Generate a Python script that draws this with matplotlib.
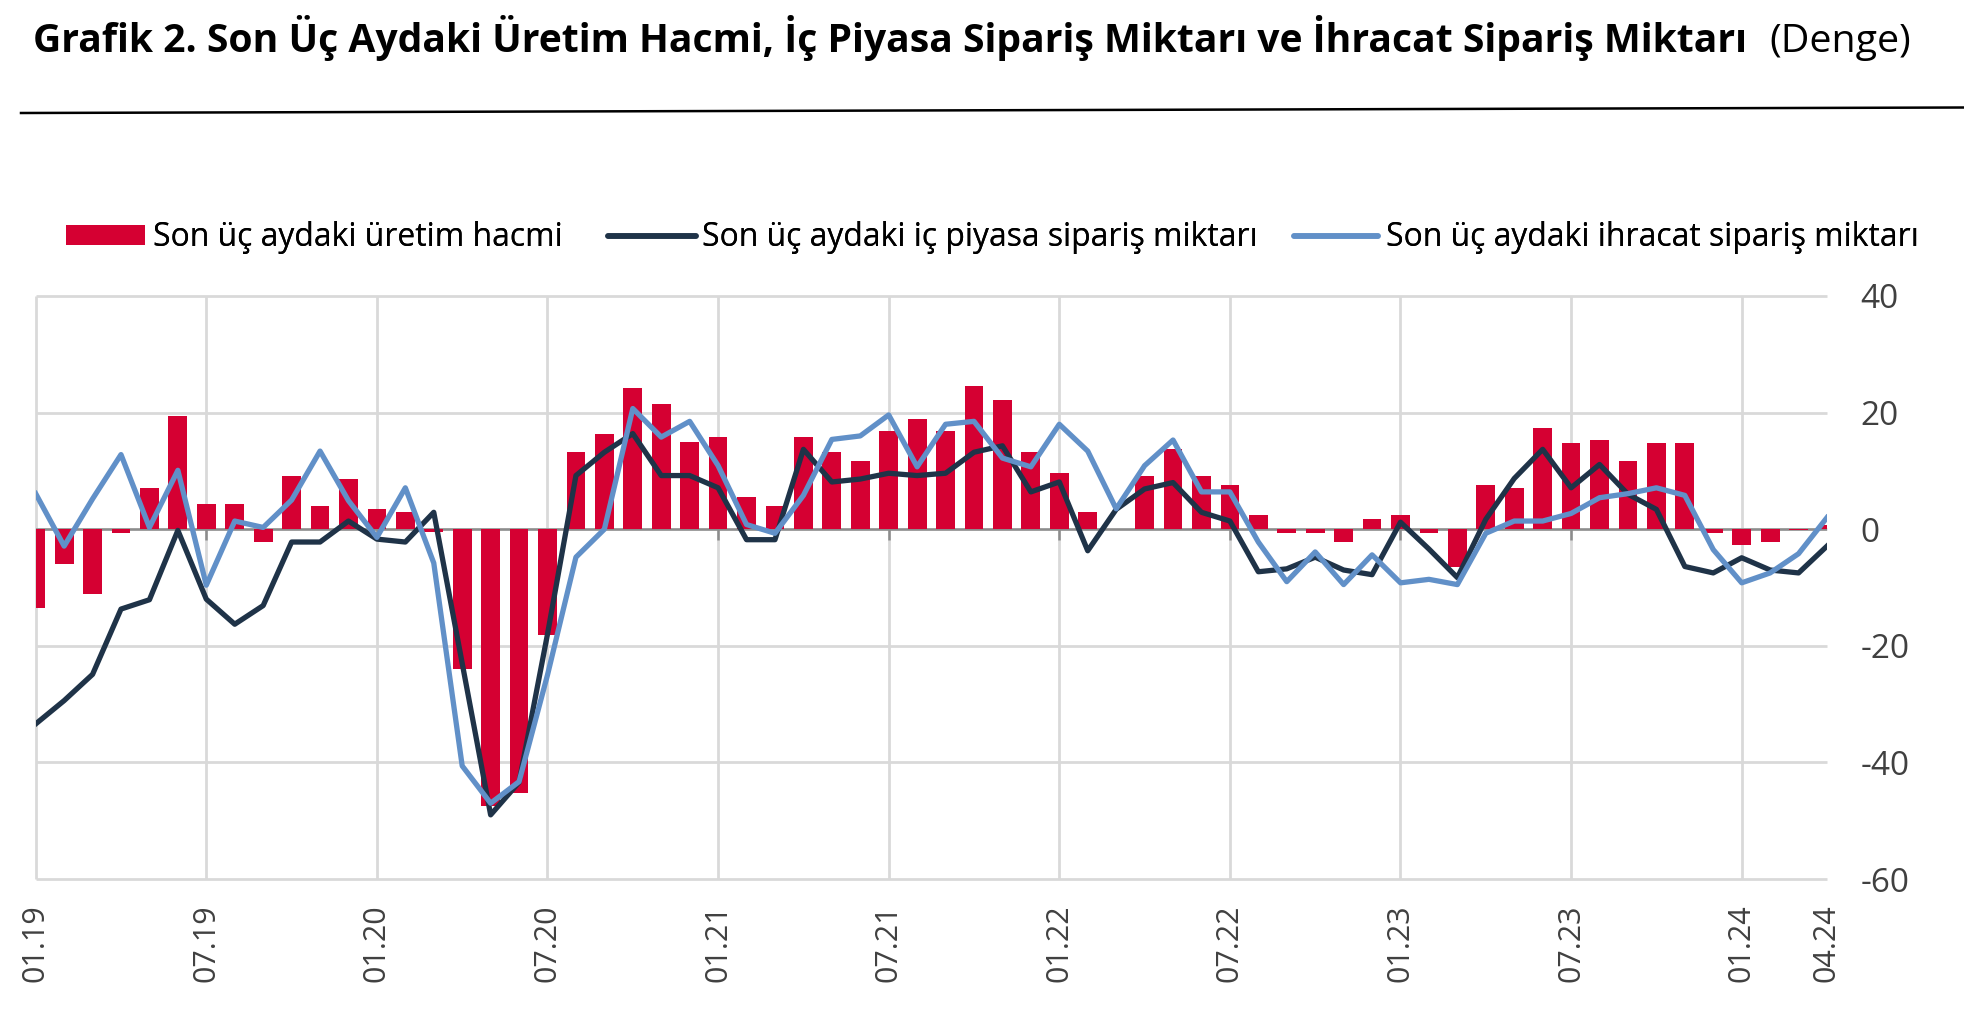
import numpy as np
import matplotlib
matplotlib.use("Agg")
import matplotlib.pyplot as plt
from matplotlib.lines import Line2D
from matplotlib.patches import Patch

plt.rcParams['font.family'] = ['Open Sans', 'DejaVu Sans']
plt.rcParams['axes.unicode_minus'] = False

# monthly categories 01.19 ... 04.24
months = [f"{m:02d}.{y:02d}" for y in range(19, 25) for m in range(1, 13)][:64]

tick_labels = ["01.19", "07.19", "01.20", "07.20", "01.21", "07.21",
               "01.22", "07.22", "01.23", "07.23", "01.24", "04.24"]
grid_labels = tick_labels[:-1]
y_ticks = [-60, -40, -20, 0, 20, 40]

series_names = ["Son üç aydaki üretim hacmi",
                "Son üç aydaki iç piyasa sipariş miktarı",
                "Son üç aydaki ihracat sipariş miktarı"]

# Son üç aydaki üretim hacmi (bars)
uretim = [-13.5, -5.9, -11.1, -0.7, 7.0, 19.4, 4.3, 4.3, -2.2, 9.1, 3.9, 8.6,
          3.4, 2.9, -0.5, -24.0, -47.4, -45.3, -18.2, 13.2, 16.4, 24.2, 21.5, 14.9,
          15.8, 5.5, 3.9, 15.8, 13.2, 11.7, 16.9, 18.9, 16.9, 24.6, 22.1, 13.2,
          9.6, 2.9, 0.0, 9.1, 13.8, 9.1, 7.5, 2.4, -0.7, -0.7, -2.2, 1.8,
          2.4, -0.7, -6.4, 7.5, 7.0, 17.4, 14.8, 15.3, 11.7, 14.8, 14.8, -0.7,
          -2.7, -2.2, -0.2, 0.8]

# Son üç aydaki iç piyasa sipariş miktarı
ic_piyasa = [-33.4, -29.4, -24.9, -13.7, -12.1, -0.2, -12.0, -16.3, -13.1, -2.2, -2.2, 1.4,
             -1.7, -2.2, 2.9, -23.0, -49.0, -43.4, -18.0, 9.2, 13.2, 16.4, 9.2, 9.2,
             7.1, -1.8, -1.8, 13.7, 8.1, 8.6, 9.6, 9.2, 9.6, 13.2, 14.3, 6.4,
             8.1, -3.7, 3.4, 6.9, 8.0, 2.9, 1.4, -7.3, -6.8, -4.8, -7.0, -7.8,
             1.2, -3.4, -8.3, 1.7, 8.7, 13.7, 7.1, 11.1, 6.0, 3.4, -6.4, -7.5,
             -4.9, -7.0, -7.5, -2.9]

# Son üç aydaki ihracat sipariş miktarı
ihracat = [6.1, -2.9, 5.2, 12.8, 0.3, 10.1, -9.6, 1.4, 0.3, 5.0, 13.4, 4.9,
           -1.4, 7.1, -5.8, -40.6, -47.0, -43.3, -25.0, -4.8, 0.0, 20.7, 15.8, 18.5,
           10.9, 0.8, -0.7, 5.8, 15.4, 16.0, 19.6, 10.7, 18.0, 18.5, 12.2, 10.7,
           18.0, 13.4, 3.5, 10.9, 15.3, 6.4, 6.4, -2.2, -9.0, -3.9, -9.5, -4.4,
           -9.2, -8.6, -9.5, -0.7, 1.4, 1.4, 2.7, 5.4, 6.1, 7.1, 5.8, -3.5,
           -9.2, -7.5, -4.2, 2.0]

RED = "#D50032"
NAVY = "#1F3348"
BLUE = "#6190C8"
GRID = "#D9D9D9"
ZERO = "#8C8C8C"
TXT = "#404040"

W, H = 1965, 1017
fig = plt.figure(figsize=(W / 100, H / 100), dpi=100)
ax = fig.add_axes([35.7 / W, 1 - 879 / H, (1827 - 35.7) / W, (879 - 296) / H])

x = np.arange(len(months))
tick_pos = [months.index(l) for l in tick_labels]
grid_pos = [months.index(l) for l in grid_labels]

ax.set_xlim(0, len(months) - 1)
ax.set_ylim(y_ticks[0], y_ticks[-1])

# grid drawn by hand so the vertical lines stop at 01.24
ax.hlines(y_ticks, 0, len(months) - 1, color=GRID, lw=2, zorder=0.5, clip_on=False)
ax.vlines(grid_pos, y_ticks[0], y_ticks[-1], color=GRID, lw=2, zorder=0.5, clip_on=False)

ax.bar(x, uretim, width=0.66, color=RED, zorder=3)
ax.plot(x, ic_piyasa, color=NAVY, lw=3.8, zorder=4, solid_joinstyle='round')
ax.plot(x, ihracat, color=BLUE, lw=3.8, zorder=5, solid_joinstyle='round')

ax.axhline(0, color=ZERO, lw=1.8, zorder=2.5)
ax.vlines(grid_pos, -1.8, 0, color=ZERO, lw=1.8, zorder=2.5)

ax.set_yticks(y_ticks)
ax.yaxis.tick_right()
ax.set_xticks(tick_pos)
ax.set_xticklabels(tick_labels, rotation=90)
ax.tick_params(axis='x', length=0, pad=18, labelsize=22, labelcolor=TXT)
for s in ax.spines.values():
    s.set_visible(False)
ax.yaxis.set_tick_params(which='major', length=0, pad=24, labelsize=24, labelcolor=TXT)

# legend: one entry at a time at the reference positions
fig.canvas.draw()
r = fig.canvas.get_renderer()
probe = fig.text(0, 0, series_names[0], fontsize=21)
lfs = 21 * 410 / probe.get_window_extent(r).width
probe.remove()
fs_px = lfs * 100 / 72

handles = [Patch(facecolor=RED, edgecolor='none'),
           Line2D([], [], color=NAVY, lw=4, solid_capstyle='round'),
           Line2D([], [], color=BLUE, lw=4, solid_capstyle='round')]
leg_x = [66, 608, 1294]
leg_len = [79, 88, 84]
leg_gap = [8, 6, 8]
for h, name, lx, ln, lg in zip(handles, series_names, leg_x, leg_len, leg_gap):
    lg_ = fig.legend(handles=[h], labels=[name], loc='center left',
                     bbox_to_anchor=(lx / W, 1 - 238 / H), frameon=False,
                     fontsize=lfs, borderpad=0, borderaxespad=0,
                     handlelength=ln / fs_px, handleheight=19 / fs_px,
                     handletextpad=lg / fs_px)
    fig.add_artist(lg_)

# title, bold part + regular "(Denge)"
t1 = fig.text(33 / W, 1 - 52 / H,
              "Grafik 2. Son Üç Aydaki Üretim Hacmi, İç Piyasa Sipariş Miktarı ve İhracat Sipariş Miktarı",
              fontsize=24, fontweight='bold', va='baseline', color='black')
t2 = fig.text(1769 / W, 1 - 52 / H, "(Denge)", fontsize=24, va='baseline', color='black')
t1.set_fontsize(24 * 1719 / t1.get_window_extent(r).width)
t2.set_fontsize(24 * 142 / t2.get_window_extent(r).width)

fig.add_artist(Line2D([21 / W, 1.0], [1 - 113 / H, 1 - 107.5 / H], color='black', lw=1.8))

fig.savefig("out.png", dpi=100)
